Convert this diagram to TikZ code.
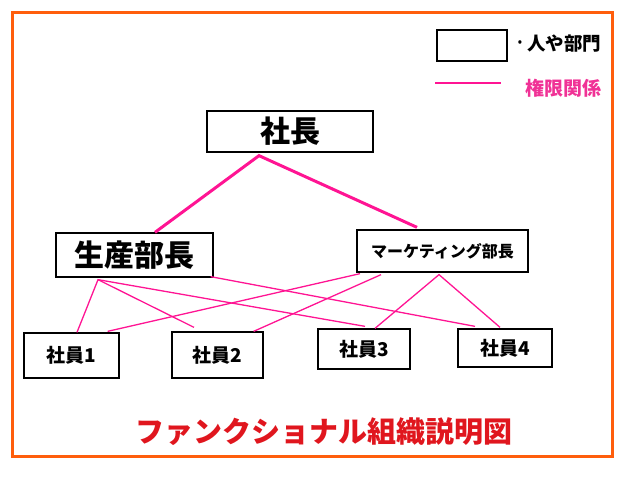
\documentclass[tikz,border=0pt]{standalone}
\usepackage{fontspec}
\setmainfont{Noto Sans CJK JP}
\usetikzlibrary{calc}
\definecolor{frameorange}{RGB}{255,94,12}
\definecolor{linkpink}{RGB}{255,20,147}
\definecolor{titlered}{RGB}{224,22,30}
\definecolor{legendpink}{RGB}{240,50,150}
\newcommand{\fsz}[1]{\fontsize{#1}{#1}\selectfont\bfseries}
\begin{document}
\begin{tikzpicture}[x=1pt,y=-1pt,
  unit/.style={draw=black, line width=1.3pt, rectangle, inner sep=0pt},
  authority/.style={draw=linkpink, line width=1.3pt},
  topauthority/.style={draw=linkpink, line width=3pt},
]
\useasboundingbox (0,0) rectangle (620,481);
\draw[frameorange, line width=3pt] (12.5,12.5) rectangle (612.5,456);

% legend
\node[unit, minimum width=70pt, minimum height=31pt] (legbox) at (472,45.5) {};
\node[inner sep=0pt, font=\fontsize{16}{16}\selectfont\bfseries] (legdot) at (520,45) {·};
\node[anchor=west, inner sep=0pt, font=\fsz{18.5}] (legtext) at (527,44) {人や部門};
\coordinate (legA) at (435,83);
\coordinate (legB) at (501,83);
\draw[authority, line width=1.5pt] (legA) -- (legB);
\node[anchor=west, inner sep=0pt, text=legendpink, font=\fsz{19}] (legauth) at (525,88) {権限関係};

% units
\node[unit, minimum width=166pt, minimum height=41pt, font=\fsz{30}] (boss) at (290,131.5) {社長};
\node[unit, minimum width=157pt, minimum height=44pt, font=\fsz{30}] (seisan) at (134.5,255) {生産部長};
\node[unit, minimum width=171pt, minimum height=42pt, font=\fsz{16}] (mk) at (442.5,251) {マーケティング部長};
\node[unit, minimum width=95pt, minimum height=45pt, font=\fsz{19}] (e1) at (71.5,355.5) {社員1};
\node[unit, minimum width=91pt, minimum height=46pt, font=\fsz{19}] (e2) at (217.5,355) {社員2};
\node[unit, minimum width=92pt, minimum height=40pt, font=\fsz{19}] (e3) at (364,349) {社員3};
\node[unit, minimum width=94pt, minimum height=38pt, font=\fsz{19}] (e4) at (505,348) {社員4};

% authority lines
\draw[topauthority] ($(seisan.north)+(20.5,0)$) -- ($(boss.south)+(-31,3)$) -- ($(mk.north)+(-25.5,-2)$);

\draw[authority] ($(e1.north)+(5.5,0)$) -- ($(seisan.south)+(-36.5,2)$) -- ($(e2.north)+(-23.5,-4)$);
\draw[authority] ($(seisan.south)+(-36.5,2)$) -- ($(e3.north)+(1,-2)$);
\draw[authority] ($(seisan.south east)+(-3,-1)$) -- ($(e4.north)+(-30,-2)$);
\draw[authority] ($(mk.south)+(-82.5,1)$) -- ($(e1.north east)+(-12,-1)$);
\draw[authority] ($(mk.south)+(-61.5,2)$) -- ($(e2.north east)+(-10,0)$);
\draw[authority] ($(e3.north)+(11,0)$) -- ($(mk.south)+(-3.5,2)$) -- ($(e4.north)+(-5,-1)$);

% title
\node[inner sep=0pt, text=titlered, font=\fsz{29}] (title) at (324,432) {ファンクショナル組織説明図};
\end{tikzpicture}
\end{document}
